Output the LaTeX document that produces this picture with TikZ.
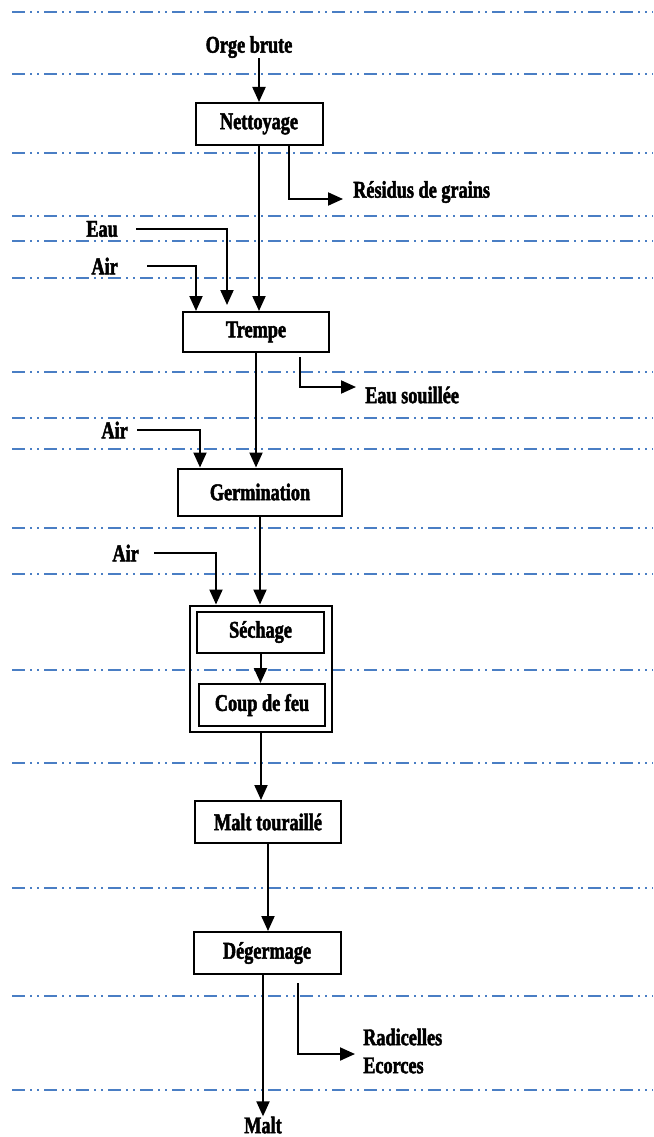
\documentclass[tikz,border=0pt]{standalone}
\usepackage{fontspec}
\setmainfont{Liberation Serif}[FakeStretch=0.76,BoldFeatures={FakeBold=2}]
\usetikzlibrary{positioning,arrows.meta,calc,fit}
\definecolor{guide}{RGB}{74,126,196}
\tikzset{
stepbox/.style={
  draw,
  line width=2pt,
  minimum height=42pt,
  inner sep=0pt,
  font=\fontsize{24}{28}\selectfont\bfseries
  },
txt/.style={
  font=\fontsize{24}{28}\selectfont\bfseries,
  inner sep=0pt
  },
feed/.style={txt,anchor=east},
waste/.style={txt,anchor=west,align=left},
flow/.style={line width=2pt,-{Triangle[length=15pt,width=13pt]}},
guideline/.style={guide,line width=2.4pt,
  dash pattern=on 13pt off 5pt on 2pt off 5pt on 2pt off 5pt}
}

\begin{document}
\begin{tikzpicture}[x=1pt,y=-1pt]
  \useasboundingbox (0,0) rectangle (653,1137);

  \foreach \yy in {12,74,153,216,241,278,372,418,449,528,574,670,763,888,996,1090}
    \draw[guideline] (12,\yy) -- (653,\yy);

  \node[txt] (orge) at (249,47) {Orge brute};
  \node[stepbox,minimum width=127pt] (nett) at (259,124) {Nettoyage};
  \node[waste,inner xsep=10pt] (residus) at (343,192) {Résidus de grains};

  \node[feed,inner xsep=18pt] (eau) at (136,229) {Eau};
  \node[feed,inner xsep=29pt] (air1) at (147,266) {Air};
  \node[stepbox,minimum width=146pt,minimum height=40pt] (trempe) at (256,332) {Trempe};
  \node[waste,inner xsep=9pt] (souillee) at (356,395) {Eau souillée};

  \node[feed,inner xsep=9pt] (air2) at (137,430) {Air};
  \node[stepbox,minimum width=164pt,minimum height=47pt] (germ) at (260,492) {Germination};

  \node[feed,inner xsep=15pt] (air3) at (154,553) {Air};
  \node[stepbox,minimum width=127pt,minimum height=41pt] (sech) at (260.5,632) {Séchage};
  \node[stepbox,minimum width=126pt] (coup) at (262,705) {Coup de feu};
  \node[draw,line width=2pt,inner xsep=6pt,inner ysep=5pt,fit=(sech)(coup)] (tour) {};

  \node[stepbox,minimum width=146pt] (malt) at (268,822) {Malt touraillé};
  \node[stepbox,minimum width=147pt] (deg) at (267,953) {Dégermage};
  \node[waste,inner xsep=8pt] (radic) at (355,1051) {Radicelles\\Ecorces};
  \node[txt] (maltout) at (263,1125) {Malt};

  % grain line
  \draw[flow] (orge.south -| nett.north) -- (nett.north);
  \draw[flow] (nett.south) -- (nett.south |- trempe.north);
  \draw[flow] (trempe.south) -- (trempe.south |- germ.north);
  \draw[flow] (germ.south) -- (germ.south |- tour.north);
  \draw[flow] (sech.south) -- (sech.south |- coup.north);
  \draw[flow] (tour.south) -- (tour.south |- malt.north);
  \draw[flow] (malt.south) -- (malt.south |- deg.north);
  \draw[flow] (maltout.north |- deg.south) -- (maltout.north);

  % entrees
  \draw[flow] (eau.east) -| ($(trempe.north)+(-29,-6)$);
  \draw[flow] (air1.east) -| ($(trempe.north)+(-60,0)$);
  \draw[flow] (air2.east) -| ($(germ.north)+(-60,0)$);
  \draw[flow] (air3.east) -| ($(tour.north)+(-45,0)$);

  % sorties
  \draw[flow] ([xshift=30pt]nett.south) |- ([yshift=-7pt]residus.west);
  \draw[flow] ([xshift=44pt,yshift=-4pt]trempe.south) |- ([yshift=8pt]souillee.west);
  \draw[flow] ([xshift=31pt,yshift=-8pt]deg.south) |- ([yshift=-3pt]radic.west);

\end{tikzpicture}
\end{document}
